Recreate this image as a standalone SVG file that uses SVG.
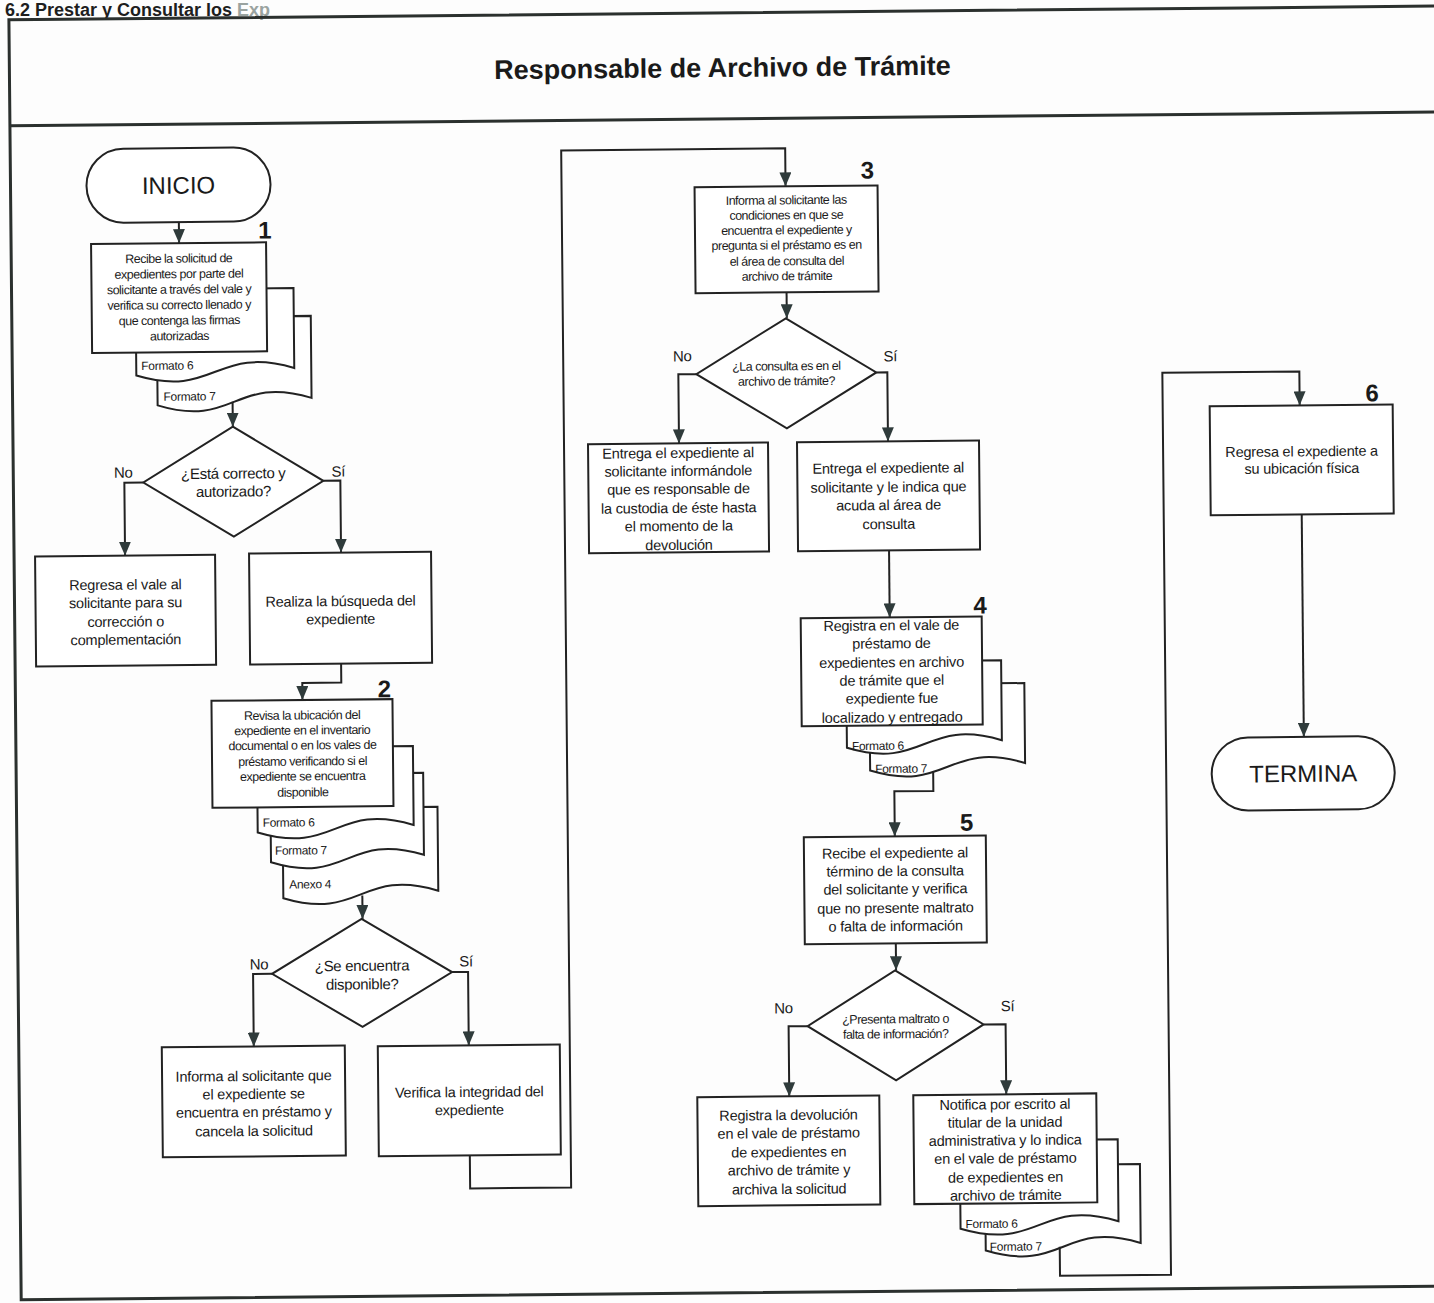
<svg xmlns="http://www.w3.org/2000/svg" width="1434" height="1303" viewBox="0 0 1434 1303">
  <style>
    .ln{fill:none;stroke:#222;stroke-width:2}
    .fr{fill:none;stroke:#2b302e;stroke-width:3}
    .bx{fill:#fff;stroke:#222;stroke-width:2}
    .t{font-family:"Liberation Sans",Arial,sans-serif;fill:#1a1a1a;text-anchor:middle}
    .s{font-size:12.5px;letter-spacing:-0.5px}
    .m{font-size:14.5px;letter-spacing:-0.2px}
    .q{font-size:15px;letter-spacing:-0.3px}
    .big{font-size:24px}
    .num{font-size:24px;font-weight:bold}
    .d{font-family:"Liberation Sans",Arial,sans-serif;fill:#1a1a1a;font-size:12px;letter-spacing:-0.3px}
  </style>
  <defs>
    <marker id="ah" viewBox="0 0 14 12" refX="14" refY="6" markerWidth="14" markerHeight="12" markerUnits="userSpaceOnUse" orient="auto">
      <path d="M0,0 L14,6 L0,12 Z" fill="#2f3b3b"/>
    </marker>
  </defs>
  <rect width="1434" height="1303" fill="#fdfdfd"/>
  <!-- section heading -->
  <text id="heading" x="5" y="16" style="font-family:'Liberation Sans',Arial,sans-serif;font-size:18px;font-weight:bold;fill:#1e1e1e">6.2 Prestar y Consultar los <tspan fill="#9aa3a0">Exp</tspan></text>
  <g transform="rotate(-0.55 717 651)">
    <!-- page frame and lane header -->
    <g id="frame">
      <path class="fr" d="M1500,13 H15 V1293 H1500"/>
      <path class="fr" d="M15,119 H1500"/>
      <text class="t" x="728" y="77" style="font-size:27px;font-weight:bold">Responsable de Archivo de Trámite</text>
    </g>

    <g id="inicio">
      <rect class="bx" x="91" y="143" width="184" height="74" rx="37"/>
      <text class="t big" x="183" y="188.5">INICIO</text>
    </g>

    <g id="paso1">
      <path class="bx" d="M160,312 H314 V394 C237,370 237,424 160,400 Z"/>
      <path class="bx" d="M139,284 H297 V364 C218,340 218,394 139,370 Z"/>
      <rect class="bx" x="95" y="238" width="175" height="109"/>
      <text class="t num" x="269" y="234">1</text>
      <text class="t s" x="182.5" y="257.5">Recibe la solicitud de</text>
      <text class="t s" x="182.5" y="273">expedientes por parte del</text>
      <text class="t s" x="182.5" y="288.5">solicitante a través del vale y</text>
      <text class="t s" x="182.5" y="304">verifica su correcto llenado y</text>
      <text class="t s" x="182.5" y="319.5">que contenga las firmas</text>
      <text class="t s" x="182.5" y="335">autorizadas</text>
      <text class="d" x="144" y="364.5">Formato 6</text>
      <text class="d" x="166" y="395.5">Formato 7</text>
    </g>

    <g id="decision1">
      <polygon class="bx" points="235,422 325,477 235,532 145,477"/>
      <text class="t q" x="235" y="474">¿Está correcto y</text>
      <text class="t q" x="235" y="492">autorizado?</text>
      <text class="t q" x="125" y="472">No</text>
      <text class="t q" x="340" y="473">Sí</text>
    </g>

    <g id="regresa-vale">
      <rect class="bx" x="36" y="550" width="180" height="110"/>
      <text class="t m" x="126" y="584">Regresa el vale al</text>
      <text class="t m" x="126" y="602">solicitante para su</text>
      <text class="t m" x="126" y="621">corrección o</text>
      <text class="t m" x="126" y="639">complementación</text>
    </g>

    <g id="busqueda">
      <rect class="bx" x="250" y="549" width="182" height="111"/>
      <text class="t m" x="341" y="602.5">Realiza la búsqueda del</text>
      <text class="t m" x="341" y="620.5">expediente</text>
    </g>

    <g id="paso2">
      <path class="bx" d="M281,804 H436 V888 C358.5,864 358.5,918 281,894 Z"/>
      <path class="bx" d="M269,770 H422 V852 C345.5,828 345.5,882 269,858 Z"/>
      <path class="bx" d="M256,743 H412 V822 C334,798 334,852 256,828 Z"/>
      <rect class="bx" x="211" y="696" width="181" height="107"/>
      <text class="t num" x="384" y="694">2</text>
      <text class="t s" x="301.5" y="715.5">Revisa la ubicación del</text>
      <text class="t s" x="301.5" y="730.5">expediente en el inventario</text>
      <text class="t s" x="301.5" y="745.5">documental o en los vales de</text>
      <text class="t s" x="301.5" y="761.5">préstamo verificando si el</text>
      <text class="t s" x="301.5" y="776.5">expediente se encuentra</text>
      <text class="t s" x="301.5" y="792.5">disponible</text>
      <text class="d" x="261" y="822.5">Formato 6</text>
      <text class="d" x="273" y="850.5">Formato 7</text>
      <text class="d" x="287" y="884.5">Anexo 4</text>
    </g>

    <g id="decision2">
      <polygon class="bx" points="359,915.5 449,969.5 359,1023.5 269,969.5"/>
      <text class="t q" x="359" y="967.5">¿Se encuentra</text>
      <text class="t q" x="359" y="986">disponible?</text>
      <text class="t q" x="256" y="965">No</text>
      <text class="t q" x="463" y="964">Sí</text>
    </g>

    <g id="informa-prestamo">
      <rect class="bx" x="158" y="1042" width="183" height="110"/>
      <text class="t m" x="249.5" y="1076.5">Informa al solicitante que</text>
      <text class="t m" x="249.5" y="1094.5">el expediente se</text>
      <text class="t m" x="249.5" y="1112.5">encuentra en préstamo y</text>
      <text class="t m" x="249.5" y="1131.5">cancela la solicitud</text>
    </g>

    <g id="verifica">
      <rect class="bx" x="374" y="1043" width="182" height="110"/>
      <text class="t m" x="465" y="1094.6">Verifica la integridad del</text>
      <text class="t m" x="465" y="1112.6">expediente</text>
    </g>

    <g id="paso3">
      <rect class="bx" x="699" y="187" width="183" height="106"/>
      <text class="t num" x="872" y="180">3</text>
      <text class="t s" x="790.5" y="205">Informa al solicitante las</text>
      <text class="t s" x="790.5" y="220">condiciones en que se</text>
      <text class="t s" x="790.5" y="235">encuentra el expediente y</text>
      <text class="t s" x="790.5" y="250">pregunta si el préstamo es en</text>
      <text class="t s" x="790.5" y="266">el área de consulta del</text>
      <text class="t s" x="790.5" y="281">archivo de trámite</text>
    </g>

    <g id="decision3">
      <polygon class="bx" points="789,319 879,374 789,429 699,374"/>
      <text class="t s" x="789" y="371">¿La consulta es en el</text>
      <text class="t s" x="789" y="386">archivo de trámite?</text>
      <text class="t q" x="685" y="361">No</text>
      <text class="t q" x="893" y="363">Sí</text>
    </g>

    <g id="entrega-custodia">
      <rect class="bx" x="590" y="443" width="180" height="109"/>
      <text class="t m" x="680" y="457.6">Entrega el expediente al</text>
      <text class="t m" x="680" y="475.6">solicitante informándole</text>
      <text class="t m" x="680" y="493.6">que es responsable de</text>
      <text class="t m" x="680" y="512.6">la custodia de éste hasta</text>
      <text class="t m" x="680" y="530.6">el momento de la</text>
      <text class="t m" x="680" y="549.6">devolución</text>
    </g>

    <g id="entrega-consulta">
      <rect class="bx" x="799" y="443" width="182" height="109"/>
      <text class="t m" x="890" y="474.7">Entrega el expediente al</text>
      <text class="t m" x="890" y="493.7">solicitante y le indica que</text>
      <text class="t m" x="890" y="511.7">acuda al área de</text>
      <text class="t m" x="890" y="530.7">consulta</text>
    </g>

    <g id="paso4">
      <path class="bx" d="M869,686 H1024 V766 C946.5,742 946.5,796 869,772 Z"/>
      <path class="bx" d="M846,663 H1001 V743 C923.5,719 923.5,773 846,749 Z"/>
      <rect class="bx" x="801" y="619" width="181" height="108"/>
      <text class="t num" x="980.5" y="616">4</text>
      <text class="t m" x="891.5" y="632">Registra en el vale de</text>
      <text class="t m" x="891.5" y="650">préstamo de</text>
      <text class="t m" x="891.5" y="669">expedientes en archivo</text>
      <text class="t m" x="891.5" y="687">de trámite que el</text>
      <text class="t m" x="891.5" y="705">expediente fue</text>
      <text class="t m" x="891.5" y="724">localizado y entregado</text>
      <text class="d" x="851" y="751.5">Formato 6</text>
      <text class="d" x="874" y="774.5">Formato 7</text>
    </g>

    <g id="paso5">
      <rect class="bx" x="802" y="838" width="182" height="107"/>
      <text class="t num" x="965" y="833">5</text>
      <text class="t m" x="893" y="859.7">Recibe el expediente al</text>
      <text class="t m" x="893" y="877.7">término de la consulta</text>
      <text class="t m" x="893" y="895.7">del solicitante y verifica</text>
      <text class="t m" x="893" y="914.7">que no presente maltrato</text>
      <text class="t m" x="893" y="932.7">o falta de información</text>
    </g>

    <g id="decision4">
      <polygon class="bx" points="892,972 980,1027 892,1082 804,1027"/>
      <text class="t s" x="892" y="1025">¿Presenta maltrato o</text>
      <text class="t s" x="892" y="1040">falta de información?</text>
      <text class="t q" x="780" y="1014">No</text>
      <text class="t q" x="1004" y="1014">Sí</text>
    </g>

    <g id="registra-devolucion">
      <rect class="bx" x="693" y="1097" width="182" height="109"/>
      <text class="t m" x="784" y="1120.7">Registra la devolución</text>
      <text class="t m" x="784" y="1138.7">en el vale de préstamo</text>
      <text class="t m" x="784" y="1157.7">de expedientes en</text>
      <text class="t m" x="784" y="1175.7">archivo de trámite y</text>
      <text class="t m" x="784" y="1194.7">archiva la solicitud</text>
    </g>

    <g id="notifica">
      <path class="bx" d="M980,1168 H1135 V1247 C1057.5,1223 1057.5,1277 980,1253 Z"/>
      <path class="bx" d="M955,1143 H1113 V1225 C1034,1201 1034,1255 955,1231 Z"/>
      <rect class="bx" x="909" y="1097" width="183" height="109"/>
      <text class="t m" x="1000.5" y="1112">Notifica por escrito al</text>
      <text class="t m" x="1000.5" y="1130">titular de la unidad</text>
      <text class="t m" x="1000.5" y="1148">administrativa y lo indica</text>
      <text class="t m" x="1000.5" y="1166">en el vale de préstamo</text>
      <text class="t m" x="1000.5" y="1185">de expedientes en</text>
      <text class="t m" x="1000.5" y="1203">archivo de trámite</text>
      <text class="d" x="960" y="1230.5">Formato 6</text>
      <text class="d" x="984" y="1253.5">Formato 7</text>
    </g>

    <g id="paso6">
      <rect class="bx" x="1212" y="411" width="183" height="109"/>
      <text class="t num" x="1374.5" y="407.5">6</text>
      <text class="t m" x="1303.5" y="462">Regresa el expediente a</text>
      <text class="t m" x="1303.5" y="479">su ubicación física</text>
    </g>

    <g id="termina">
      <rect class="bx" x="1210.5" y="742.5" width="183" height="73" rx="36.5"/>
      <text class="t big" x="1302" y="787.5">TERMINA</text>
    </g>

    <!-- flow lines -->
    <g id="connectors" class="ln" marker-end="url(#ah)">
      <path d="M183,217 V238"/>
      <path d="M235,397 V422"/>
      <path d="M145,477 H126 V550"/>
      <path d="M325,477 H342 V549"/>
      <path d="M341,660 V679 H302 V696"/>
      <path d="M360,892 V915.5"/>
      <path d="M269,969.5 H250 V1042"/>
      <path d="M449,969.5 H465 V1043"/>
      <path d="M465,1153 V1186 H566 V149 H790 V187"/>
      <path d="M790,293 V319"/>
      <path d="M699,374 H681 V443"/>
      <path d="M879,374 H890 V443"/>
      <path d="M890,552 V619"/>
      <path d="M932,774 V793 H893 V838"/>
      <path d="M893,945 V972"/>
      <path d="M804,1027 H785 V1097"/>
      <path d="M980,1027 H1002 V1097"/>
      <path d="M1054,1250 V1279 H1165 V377 H1302 V411"/>
      <path d="M1303,520 V742.5"/>
    </g>
  </g>
</svg>
